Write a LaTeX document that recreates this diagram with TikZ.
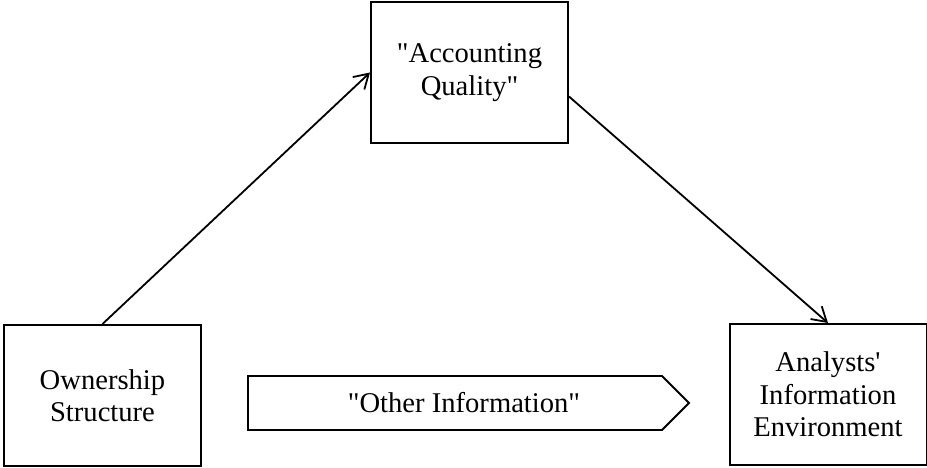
\documentclass[tikz,border=0pt]{standalone}
\usepackage{fontspec}
\setmainfont{Liberation Serif}[Ligatures=TeXOff]
\usetikzlibrary{arrows.meta}

\begin{document}
\begin{tikzpicture}[x=1pt,y=-1pt,>={Straight Barb[length=14pt,width=17pt]},
  main node/.style={draw,line width=2pt,minimum width=197pt,minimum height=141pt,align=center,
    font=\fontsize{28.6}{32.5}\selectfont},
  info node/.style={font=\fontsize{28.6}{32.5}\selectfont},
  info arrow/.style={draw,line width=1.8pt,line join=miter}]

  \useasboundingbox (0,0) rectangle (927,468);

  \node[main node] (own) at (102.5,395.5) {Ownership\\Structure};
  \node[main node] (aq) at (469.5,72.5) {"Accounting\\Quality"};
  \node[main node] (ana) at (828,394.5) {Analysts'\\Information\\Environment};
  \node[info node] (other) at (464,403) {"Other Information"};
  \coordinate (aqout) at ([yshift=-24pt]aq.east);

  % arrow shaped box round the other information
  \path[info arrow] (248,376) -- (662,376) -- (689,403) -- (662,430) -- (248,430) -- cycle;

  \path[->,line width=1.8pt]
    (own.north) edge (aq.west)
    (aqout) edge (ana.north);
\end{tikzpicture}
\end{document}
